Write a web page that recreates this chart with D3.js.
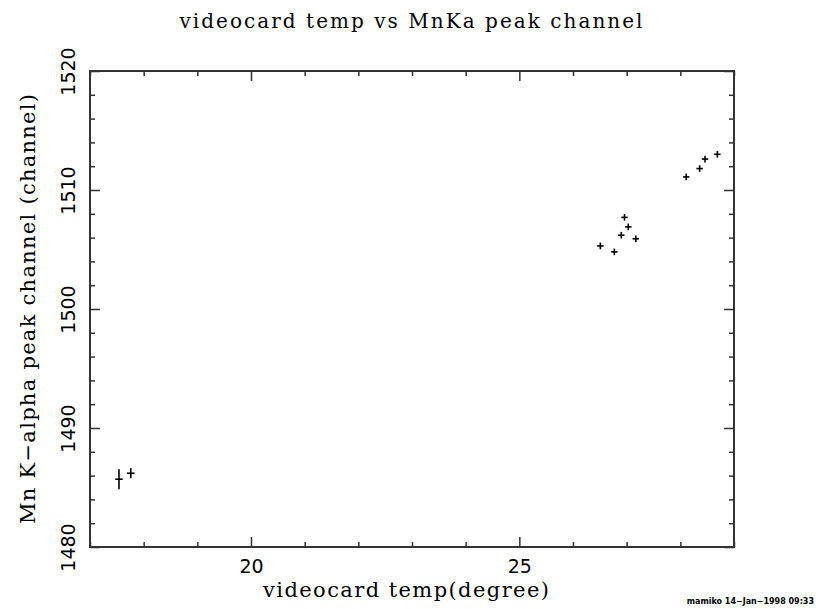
<!DOCTYPE html>
<html>
<head>
<meta charset="utf-8">
<script src="https://cdn.jsdelivr.net/npm/d3@7"></script>
<style>
  body { margin: 0; background: #fff; }
  svg { display: block; }
  .axis path, .axis line { stroke: #333; }
  .axis text { font-family: "DejaVu Sans", sans-serif; fill: #000; }
</style>
</head>
<body>
<div class="chartdiv"></div>
<script>
// videocard temperature (degree)
var temps = [17.54, 17.76, 26.51, 26.77, 26.90, 26.96, 27.03, 27.17, 28.11, 28.36, 28.46, 28.69]
// MnKa peak channel
var peaks = [1485.7, 1486.2, 1505.3, 1504.8, 1506.2, 1507.7, 1506.9, 1505.9, 1511.1, 1511.8, 1512.6, 1513.0]
// error bars (half widths)
var tempErr = [0.07, 0.07, 0.06, 0.06, 0.06, 0.06, 0.06, 0.06, 0.06, 0.06, 0.06, 0.06]
var peakErr = [0.84, 0.42, 0.28, 0.28, 0.28, 0.28, 0.28, 0.28, 0.28, 0.28, 0.28, 0.28]

var xMajor = [20, 25]
var yMajor = [1480, 1490, 1500, 1510, 1520]

var w = 816, h = 609

var svg = d3.select('.chartdiv').append('svg')
    .attr('width', w)
    .attr('height', h)

var xScale = d3.scaleLinear().domain([17, 29]).range([90, 734])
var yScale = d3.scaleLinear().domain([1480, 1520]).range([547, 71])

var xMinor = d3.range(17, 30, 1).filter(d => xMajor.indexOf(d) == -1)
var yMinor = d3.range(1480, 1521, 2).filter(d => yMajor.indexOf(d) == -1)

var pLeft = xScale.range()[0], pRight = xScale.range()[1]
var pTop = yScale.range()[1], pBottom = yScale.range()[0]

var serif = '"DejaVu Serif", "Liberation Serif", serif'

// frame
svg.append('rect')
    .attr('x', pLeft).attr('y', pTop)
    .attr('width', pRight - pLeft).attr('height', pBottom - pTop)
    .attr('fill', 'none').attr('stroke', '#333').attr('stroke-width', 2)

// bottom axis with labels, inward ticks
var gx = svg.append('g').attr('class', 'x axis')
    .attr('transform', 'translate(0,' + pBottom + ')')
    .call(d3.axisBottom(xScale).tickValues(xMajor).tickSize(-10).tickPadding(13).tickFormat(d3.format('d')))
gx.select('.domain').remove()
gx.selectAll('text').style('font-size', '19px')
svg.append('g').attr('class', 'axis')
    .attr('transform', 'translate(0,' + pBottom + ')')
    .call(d3.axisBottom(xScale).tickValues(xMinor).tickSize(-5).tickFormat(''))
    .select('.domain').remove()

// top axis (ticks only)
var gt = svg.append('g').attr('class', 'axis')
    .attr('transform', 'translate(0,' + pTop + ')')
gt.call(d3.axisTop(xScale).tickValues(xMajor).tickSize(-10).tickFormat(''))
gt.append('g').call(d3.axisTop(xScale).tickValues(xMinor).tickSize(-5).tickFormat(''))
gt.selectAll('.domain').remove()

// left axis with rotated labels
var gy = svg.append('g').attr('class', 'y axis')
    .attr('transform', 'translate(' + pLeft + ',0)')
    .call(d3.axisLeft(yScale).tickValues(yMajor).tickSize(-10).tickFormat(d3.format('d')))
gy.select('.domain').remove()
gy.selectAll('text')
    .attr('x', 0).attr('dy', 0)
    .attr('text-anchor', 'middle')
    .attr('transform', 'translate(-15,0) rotate(-90)')
    .style('font-size', '19px')
svg.append('g').attr('class', 'axis')
    .attr('transform', 'translate(' + pLeft + ',0)')
    .call(d3.axisLeft(yScale).tickValues(yMinor).tickSize(-5).tickFormat(''))
    .select('.domain').remove()

// right axis (ticks only)
var gr = svg.append('g').attr('class', 'axis')
    .attr('transform', 'translate(' + pRight + ',0)')
gr.call(d3.axisRight(yScale).tickValues(yMajor).tickSize(-10).tickFormat(''))
gr.append('g').call(d3.axisRight(yScale).tickValues(yMinor).tickSize(-5).tickFormat(''))
gr.selectAll('.domain').remove()
svg.selectAll('.axis line').attr('stroke-width', 1.5)

// data points with error bars
var dataset = temps.map((t, i) => ({ x: t, y: peaks[i], xe: tempErr[i], ye: peakErr[i] }))
var pts = svg.append('g').attr('id', 'points')
    .selectAll('g').data(dataset).enter().append('g')
pts.append('line')
    .attr('x1', d => xScale(d.x - d.xe)).attr('x2', d => xScale(d.x + d.xe))
    .attr('y1', d => yScale(d.y)).attr('y2', d => yScale(d.y))
    .attr('stroke', '#000').attr('stroke-width', 1.6)
pts.append('line')
    .attr('x1', d => xScale(d.x)).attr('x2', d => xScale(d.x))
    .attr('y1', d => yScale(d.y - d.ye)).attr('y2', d => yScale(d.y + d.ye))
    .attr('stroke', '#000').attr('stroke-width', 1.6)

// title
svg.append('text')
    .attr('x', 411).attr('y', 28)
    .attr('text-anchor', 'middle')
    .attr('textLength', 463).attr('lengthAdjust', 'spacing')
    .style('font-family', serif)
    .style('font-size', '20px')
    .style('font-weight', 300)
    .text('videocard temp vs MnKa peak channel')

// x axis label
svg.append('text')
    .attr('x', 406).attr('y', 597)
    .attr('text-anchor', 'middle')
    .attr('textLength', 286).attr('lengthAdjust', 'spacing')
    .style('font-family', serif)
    .style('font-size', '21px')
    .text('videocard temp(degree)')

// y axis label
svg.append('text')
    .attr('transform', 'translate(35,' + 309 + ') rotate(-90)')
    .attr('text-anchor', 'middle')
    .attr('textLength', 430).attr('lengthAdjust', 'spacing')
    .style('font-family', serif)
    .style('font-size', '21px')
    .text('Mn K\u2212alpha peak channel (channel)')

// footer stamp
svg.append('text')
    .attr('x', 814).attr('y', 604)
    .attr('text-anchor', 'end')
    .style('font-family', '"DejaVu Sans", sans-serif')
    .style('font-size', '8px')
    .style('font-weight', 'bold')
    .text('mamiko 14\u2212Jan\u22121998 09:33')
</script>
</body>
</html>
